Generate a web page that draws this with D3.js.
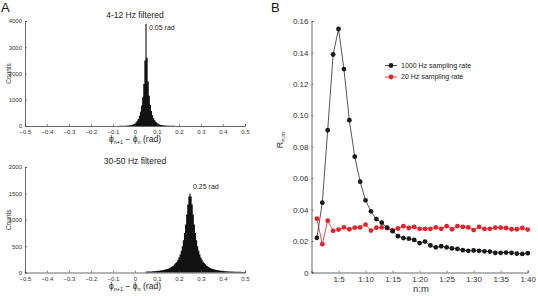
<!DOCTYPE html>
<html>
<head>
<meta charset="utf-8">
<script src="https://cdn.jsdelivr.net/npm/d3@7"></script>
<style>
  body { margin: 0; background: #fff; }
  svg text { font-family: "Liberation Sans", Arial, sans-serif; }
</style>
</head>
<body>
<div id="chart"></div>
<script>
// histogram data, bins of width 0.005 rad (bin centres)
const binWidth = 0.005;
const topBinStart = -0.1;
const topCounts = [2, 2, 3, 3, 4, 4, 5, 6, 7, 8,
    10, 12, 14, 17, 21, 26, 33, 42, 55, 72,
    100, 140, 200, 280, 390, 550, 780, 1100, 1600, 2500,
    3900, 2600, 1700, 1150, 800, 570, 410, 300, 220, 160,
    120, 90, 68, 52, 40, 31, 25, 20, 16, 13,
    10, 9, 8, 7, 6, 5, 5, 4, 4, 3, 3];
const bottomBinStart = 0.05;
const bottomCounts = [16, 17, 18, 19, 20, 21, 22, 24, 26, 28,
    30, 32, 35, 38, 41, 45, 49, 54, 60, 66,
    73, 82, 92, 104, 118, 135, 155, 178, 205, 240,
    285, 340, 410, 500, 610, 750, 910, 1100, 1290, 1440,
    1500,
    1440, 1290, 1100, 910, 750, 610, 500, 410, 340, 285,
    240, 205, 178, 155, 135, 118, 104, 92, 82, 73,
    66, 60, 54, 49, 45, 41, 38, 35, 32, 30,
    28, 26, 24, 22, 21, 20, 19, 18, 17, 16,
    15, 14, 13, 13, 12, 12, 11, 11, 10, 10];
const histTicks = [-0.5, -0.4, -0.3, -0.2, -0.1, 0, 0.1, 0.2, 0.3, 0.4, 0.5];

// panel B data, n:m = 1:1 ... 1:40
const ratioM = d3.range(1, 41);
const r1000 = [0.022, 0.0444, 0.0905, 0.1387, 0.1549, 0.1294, 0.0969, 0.0737, 0.0578, 0.0459,
    0.0389, 0.034, 0.0317, 0.0285, 0.0263, 0.0231, 0.0219, 0.0215, 0.0207, 0.0187,
    0.0197, 0.0172, 0.016, 0.0167, 0.016, 0.0153, 0.015, 0.0142, 0.0138, 0.014,
    0.0138, 0.0135, 0.0133, 0.0125, 0.0125, 0.0127, 0.0125, 0.012, 0.0118, 0.0123];
const r20 = [0.0342, 0.018, 0.033, 0.0265, 0.0273, 0.0287, 0.0275, 0.0285, 0.0287, 0.0305,
    0.0267, 0.0285, 0.0287, 0.0283, 0.027, 0.028, 0.0295, 0.0283, 0.029, 0.0278,
    0.0278, 0.0278, 0.0287, 0.0278, 0.0295, 0.0275, 0.0295, 0.029, 0.0287, 0.027,
    0.029, 0.0277, 0.0278, 0.0285, 0.0285, 0.0283, 0.0275, 0.0275, 0.0283, 0.0273];
const ratioTicks = [5, 10, 15, 20, 25, 30, 35, 40];
const rTicks = [0, 0.02, 0.04, 0.06, 0.08, 0.10, 0.12, 0.14, 0.16];
const seriesNames = ["1000 Hz sampling rate", "20 Hz sampling rate"];
const seriesColors = ["#1a1a1a", "#e3222b"];

const svg = d3.select("#chart").append("svg")
    .attr("width", 538)
    .attr("height", 296);

const axisColor = "#444";
const tickColor = "#333";

function styleAxis(g, fs) {
    g.select(".domain").attr("stroke", axisColor).attr("stroke-width", 0.8);
    g.selectAll(".tick line").attr("stroke", axisColor).attr("stroke-width", 0.6);
    g.selectAll(".tick text").attr("fill", tickColor).style("font-size", fs + "px")
        .style("font-family", "'Liberation Sans', Arial, sans-serif");
}

// draws one histogram panel
function drawHist(counts, start, yMax, yStep, top, bottom, title, peakLabel, peakX, peakY) {
    const x = d3.scaleLinear().domain([-0.5, 0.5]).range([25, 245]);
    const y = d3.scaleLinear().domain([0, yMax]).range([bottom, top]);

    // step outline of the bins, with the last edge repeated
    const edges = counts.map((d, i) => [start + i * binWidth - binWidth / 2, d]);
    edges.push([start + counts.length * binWidth - binWidth / 2, counts[counts.length - 1]]);
    const area = d3.area()
        .curve(d3.curveStepAfter)
        .x(d => x(d[0]))
        .y0(bottom)
        .y1(d => y(d[1]));
    svg.append("path")
        .datum(edges)
        .attr("d", area)
        .attr("fill", "#111");

    const gx = svg.append("g")
        .attr("transform", `translate(0,${bottom})`)
        .call(d3.axisBottom(x).tickValues(histTicks).tickSize(-2).tickPadding(4)
            .tickFormat(d => d === 0 ? "0" : d3.format(".1f")(d)));
    styleAxis(gx, 6);

    const gy = svg.append("g")
        .attr("transform", `translate(25,0)`)
        .call(d3.axisLeft(y).tickValues(d3.range(0, yMax + 1, yStep)).tickSize(-2).tickPadding(3)
            .tickFormat(d3.format("d")));
    styleAxis(gy, 6);

    svg.append("text")
        .text(title)
        .attr("x", 135)
        .attr("y", top - 3)
        .attr("text-anchor", "middle")
        .style("font-size", "8.5px")
        .attr("fill", "#222");

    svg.append("text")
        .text("Counts")
        .attr("transform", `translate(11,${(top + bottom) / 2}) rotate(-90)`)
        .attr("text-anchor", "middle")
        .style("font-size", "6.5px")
        .attr("fill", "#333");

    const xl = svg.append("text")
        .attr("x", 135)
        .attr("y", bottom + 16)
        .attr("text-anchor", "middle")
        .style("font-size", "8.5px")
        .attr("fill", "#222");
    xl.append("tspan").text("\u03d5");
    xl.append("tspan").text("n+1").attr("baseline-shift", "-30%").style("font-size", "5.5px");
    xl.append("tspan").text(" \u2212 \u03d5");
    xl.append("tspan").text("n").attr("baseline-shift", "-30%").style("font-size", "5.5px");
    xl.append("tspan").text(" (rad)");

    svg.append("text")
        .text(peakLabel)
        .attr("x", x(peakX) + 3)
        .attr("y", y(peakY))
        .style("font-size", "7px")
        .attr("fill", "#222");
}

drawHist(topCounts, topBinStart, 4000, 1000, 21, 126, "4-12 Hz filtered", "0.05 rad", 0.05, 3650);
drawHist(bottomCounts, bottomBinStart, 2000, 500, 167, 272.5, "30-50 Hz filtered", "0.25 rad", 0.25, 1580);

// panel B
const bx = d3.scaleLinear().domain([0, 40]).range([311.5, 527.7]);
const by = d3.scaleLinear().domain([0, 0.16]).range([272.5, 21]);

const gbx = svg.append("g")
    .attr("transform", `translate(0,${by(0)})`)
    .call(d3.axisBottom(bx).tickValues(ratioTicks).tickSize(-2).tickPadding(4)
        .tickFormat(d => "1:" + d));
styleAxis(gbx, 8);

const gby = svg.append("g")
    .attr("transform", `translate(${bx(0)},0)`)
    .call(d3.axisLeft(by).tickValues(rTicks).tickSize(-2).tickPadding(3)
        .tickFormat(d => d === 0 ? "0" : d3.format(".2f")(d)));
styleAxis(gby, 8);

const line = d3.line().x((d, i) => bx(ratioM[i])).y(d => by(d));

[r20, r1000].forEach(function (vals, k) {
    const c = k === 0 ? seriesColors[1] : seriesColors[0];
    svg.append("path")
        .datum(vals)
        .attr("d", line)
        .attr("fill", "none")
        .attr("stroke", k === 0 ? "#e3222b" : "#2a2a2a")
        .attr("stroke-width", 0.8);
    svg.append("g")
        .selectAll("circle")
        .data(vals)
        .enter()
        .append("circle")
        .attr("cx", (d, i) => bx(ratioM[i]))
        .attr("cy", d => by(d))
        .attr("r", 2.4)
        .attr("fill", c);
});

// legend
seriesNames.forEach(function (name, i) {
    const ly = 65.5 + i * 11.5;
    svg.append("line")
        .attr("x1", 385).attr("x2", 397)
        .attr("y1", ly).attr("y2", ly)
        .attr("stroke", seriesColors[i]).attr("stroke-width", 0.8);
    svg.append("circle")
        .attr("cx", 391).attr("cy", ly).attr("r", 2.4)
        .attr("fill", seriesColors[i]);
    svg.append("text")
        .text(name)
        .attr("x", 401)
        .attr("y", ly + 2.4)
        .style("font-size", "7px")
        .attr("fill", "#222");
});

const ryl = svg.append("text")
    .attr("transform", `translate(283,140) rotate(-90)`)
    .attr("text-anchor", "middle")
    .style("font-size", "9px")
    .attr("fill", "#333");
ryl.append("tspan").text("R");
ryl.append("tspan").text("n:m").attr("baseline-shift", "-30%").style("font-size", "6px");

svg.append("text")
    .text("n:m")
    .attr("x", 421)
    .attr("y", 292)
    .attr("text-anchor", "middle")
    .style("font-size", "9.5px")
    .attr("fill", "#333");

// panel letters
svg.append("text").text("A").attr("x", 1).attr("y", 12)
    .style("font-size", "13px").attr("fill", "#111");
svg.append("text").text("B").attr("x", 271).attr("y", 12)
    .style("font-size", "13px").attr("fill", "#111");
</script>
</body>
</html>
